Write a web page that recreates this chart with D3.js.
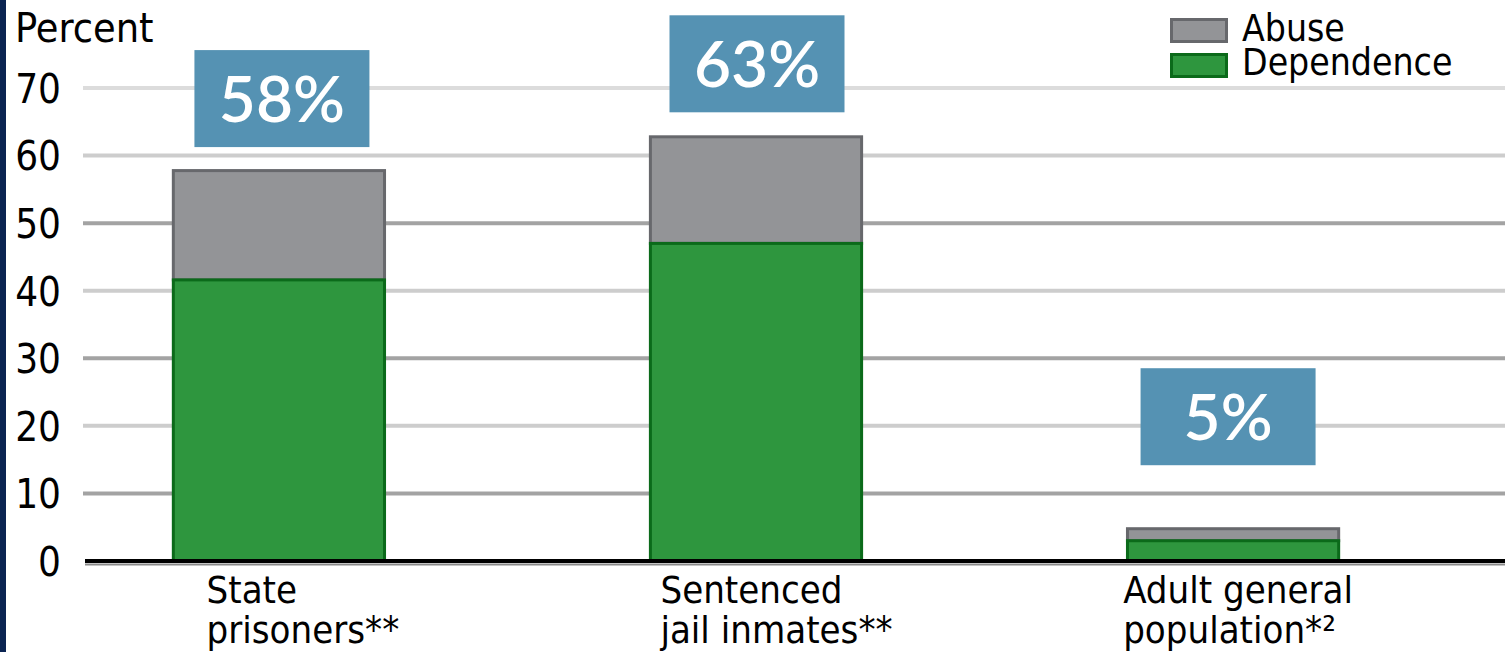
<!DOCTYPE html>
<html><head><meta charset="utf-8">
<script src="https://cdn.jsdelivr.net/npm/d3@7"></script>
<style>html,body{margin:0;padding:0;background:#fff;}svg{display:block;}</style>
</head><body>
<svg id="chart" width="1505" height="652"></svg>
<script>
const categories = [["State", "prisoners**"], ["Sentenced", "jail inmates**"], ["Adult general", "population*²"]];
const dependence = [41.6, 47, 3];
const abuse = [16.4, 16, 2];
const totalLabels = ["58%", "63%", "5%"];
const yTicks = [0, 10, 20, 30, 40, 50, 60, 70];
const seriesNames = ["Abuse", "Dependence"];

const svg = d3.select("#chart");
const W = 1505, H = 652;
const tickFont = "'DejaVu Sans Condensed', 'Liberation Sans Narrow', sans-serif";

// left navy strip
svg.append("rect").attr("x", 0).attr("y", 0).attr("width", 6).attr("height", H).attr("fill", "#0b2452");

const y = d3.scaleLinear().domain([0, 70]).range([561, 88]);
const x = d3.scaleBand().domain(d3.range(categories.length)).range([85, 1427])
  .paddingInner(0.551).paddingOuter(0.182);

// gridlines
svg.append("g").selectAll("line").data(yTicks.filter(d => d > 0)).join("line")
  .attr("x1", 83).attr("x2", W).attr("y1", d => y(d)).attr("y2", d => y(d))
  .attr("stroke", d => d === 70 ? "#dcdcdc" : (d / 10) % 2 === 1 ? "#a3a3a3" : "#cdcdcd")
  .attr("stroke-width", 4);

// y axis labels
const yAxis = d3.axisLeft(y).tickValues(yTicks).tickSize(0).tickPadding(0);
const yg = svg.append("g").attr("transform", "translate(61,0)").call(yAxis);
yg.select(".domain").remove();
yg.selectAll("text").attr("font-family", tickFont).attr("font-size", 40).attr("fill", "#000")
  .attr("dy", "0.36em");

svg.append("text").attr("x", 15).attr("y", 42).text("Percent")
  .attr("font-family", tickFont).attr("font-size", 41).attr("fill", "#000");

// bars
const stackData = categories.map((c, i) => ({i, dep: dependence[i], ab: abuse[i]}));
const bars = svg.append("g");
bars.selectAll("rect.ab").data(stackData).join("rect").attr("class", "ab")
  .attr("x", d => x(d.i) + 1.5).attr("width", x.bandwidth() - 3)
  .attr("y", d => y(d.dep + d.ab) + 1.5).attr("height", d => y(d.dep) - y(d.dep + d.ab) - 1.5)
  .attr("fill", "#939497").attr("stroke", "#67686c").attr("stroke-width", 3);
bars.selectAll("rect.dep").data(stackData).join("rect").attr("class", "dep")
  .attr("x", d => x(d.i) + 1.5).attr("width", x.bandwidth() - 3)
  .attr("y", d => y(d.dep)).attr("height", d => y(0) - y(d.dep))
  .attr("fill", "#2e963e").attr("stroke", "#0b6a1a").attr("stroke-width", 3);

// x axis line
svg.append("line").attr("x1", 85).attr("x2", W).attr("y1", 564.5).attr("y2", 564.5)
  .attr("stroke", "#8a8a8a").attr("stroke-width", 2);
svg.append("line").attr("x1", 85).attr("x2", W).attr("y1", 561).attr("y2", 561)
  .attr("stroke", "#000").attr("stroke-width", 4);

// category labels
const cat = svg.append("g");
categories.forEach((lines, i) => {
  const t = cat.append("text").attr("font-family", tickFont).attr("font-size", 38).attr("fill", "#000");
  lines.forEach((l, k) => t.append("tspan").attr("x", 0).attr("y", 603 + k * 40).text(l));
  const w = t.node().getBBox().width;
  const cx = x(i) + x.bandwidth() / 2 + [24, 21, 5][i];
  t.selectAll("tspan").attr("x", cx - w / 2);
});

// value label boxes
const boxOffsets = [22, 23, 62];
const boxW = 175, boxH = 97;
const lab = svg.append("g");
stackData.forEach((d, i) => {
  const bottom = y(d.dep + d.ab) - boxOffsets[i];
  const cx = x(i) + x.bandwidth() / 2 + [3, 1, -5][i];
  lab.append("rect").attr("x", cx - boxW / 2).attr("y", bottom - boxH).attr("width", boxW).attr("height", boxH)
    .attr("fill", "#5592b3");
  lab.append("text").attr("x", cx).attr("y", bottom - boxH / 2 + 23).attr("text-anchor", "middle")
    .attr("font-family", "Lato, 'Open Sans', sans-serif").attr("font-size", 64).attr("font-weight", 600)
    .attr("fill", "#fff").text(totalLabels[i]);
});

// legend
const colors = {Abuse: ["#939497", "#67686c"], Dependence: ["#2e963e", "#0b6a1a"]};
const leg = svg.append("g");
seriesNames.forEach((s, k) => {
  leg.append("rect").attr("x", 1171.5).attr("y", 19.5 + k * 35).attr("width", 55).attr("height", 22)
    .attr("fill", colors[s][0]).attr("stroke", colors[s][1]).attr("stroke-width", 3);
  leg.append("text").attr("x", 1242).attr("y", 41 + k * 34).text(s)
    .attr("font-family", tickFont).attr("font-size", 37).attr("fill", "#000");
});
</script>
</body></html>
